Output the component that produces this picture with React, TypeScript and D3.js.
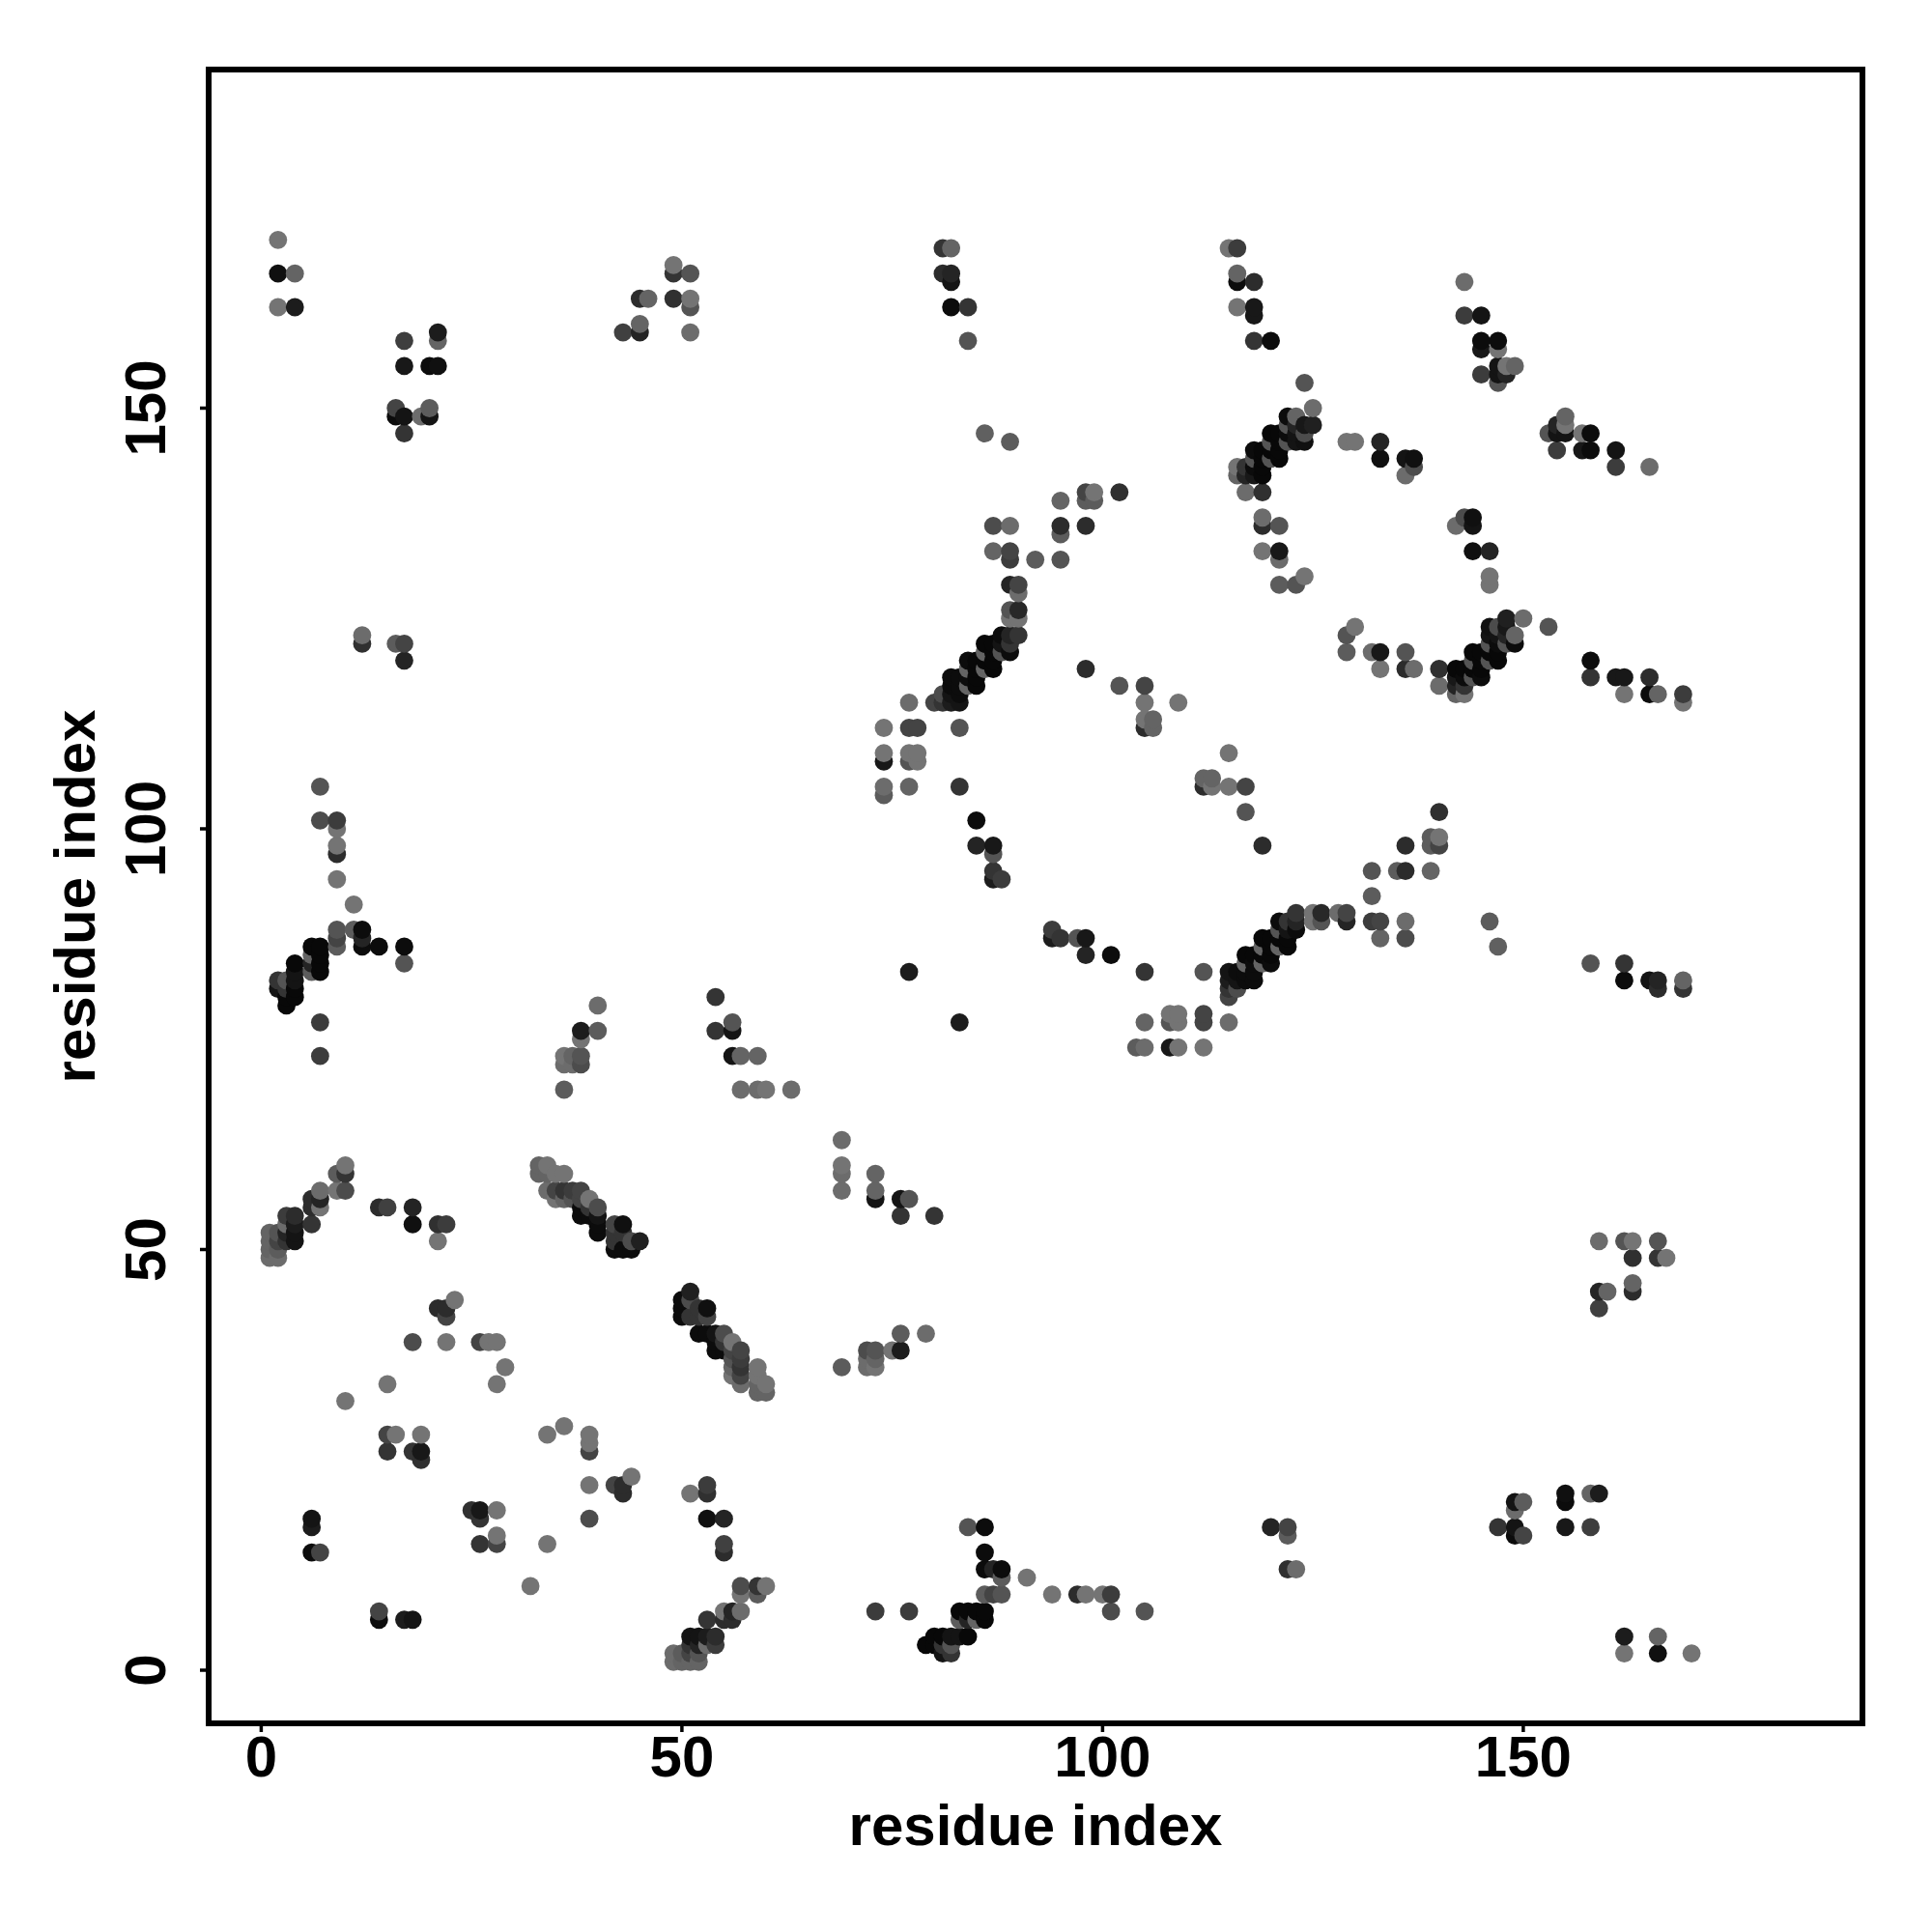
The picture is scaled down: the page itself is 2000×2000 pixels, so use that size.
import React from "react";
import * as d3 from "d3";

// Each contact is [residue i, residue j, grey level]; the map is symmetric, so only i < j is listed.
const contactsFirst: number[][] = [
  [1,49,0x68],[1,50,0x60],[1,51,0x60],[1,52,0x60],
  [2,49,0x68],[2,50,0x58],[2,51,0x40],[2,52,0x50],[2,81,0x10],[2,82,0x30],[2,162,0x70],[2,166,0x0c],[2,170,0x70],
  [3,51,0x30],[3,52,0x20],[3,53,0x68],[3,54,0x38],[3,79,0x04],[3,80,0x04],[3,81,0x30],[3,82,0x50],
  [4,51,0x10],[4,52,0x10],[4,53,0x18],[4,54,0x28],[4,80,0x04],[4,81,0x04],[4,82,0x10],[4,83,0x10],[4,84,0x04],[4,162,0x18],[4,166,0x60],
  [6,14,0x08],[6,17,0x18],[6,18,0x10],[6,53,0x30],[6,55,0x28],[6,56,0x28],[6,83,0x58],[6,84,0x20],[6,85,0x60],[6,86,0x04],
  [7,14,0x40],[7,55,0x70],[7,56,0x20],[7,57,0x68],[7,73,0x38],[7,77,0x38],[7,83,0x04],[7,84,0x04],[7,85,0x04],[7,86,0x04],[7,101,0x48],[7,105,0x50],
  [9,57,0x70],[9,59,0x58],[9,86,0x58],[9,87,0x40],[9,88,0x50],[9,94,0x70],[9,97,0x28],[9,98,0x70],[9,100,0x70],[9,101,0x38],
  [10,32,0x70],[10,57,0x48],[10,59,0x30],[10,60,0x70],
  [11,88,0x58],[11,91,0x70],
  [12,86,0x08],[12,87,0x20],[12,88,0x08],[12,122,0x2c],[12,123,0x68],
  [14,55,0x28],[14,86,0x08],
  [15,26,0x30],[15,28,0x40],[15,34,0x70],[15,55,0x3c],
  [16,28,0x70],[16,122,0x58],[16,149,0x08],[16,150,0x40],
  [17,84,0x50],[17,86,0x08],[17,120,0x20],[17,122,0x40],[17,147,0x30],[17,149,0x10],[17,155,0x14],[17,158,0x3a],
  [18,26,0x30],[18,39,0x48],[18,53,0x0c],[18,55,0x20],
  [19,25,0x2c],[19,26,0x14],[19,28,0x70],[19,149,0x68],
  [20,149,0x10],[20,150,0x58],[20,155,0x08],
];

const contactsSecond: number[][] = [
  [21,43,0x28],[21,51,0x70],[21,53,0x2c],[21,155,0x0c],[21,158,0x60],[21,159,0x18],
  [22,39,0x70],[22,42,0x40],[22,43,0x28],[22,53,0x38],
  [23,44,0x70],[26,39,0x40],[27,39,0x70],[28,34,0x70],[28,39,0x70],[29,36,0x70],
  [33,59,0x60],[33,60,0x60],
  [34,57,0x68],[34,59,0x60],[34,60,0x70],
  [35,56,0x70],[35,57,0x40],[35,59,0x70],
  [36,56,0x60],[36,57,0x30],[36,59,0x70],[36,69,0x58],[36,72,0x68],[36,73,0x70],
  [37,56,0x50],[37,57,0x38],[37,72,0x68],[37,73,0x60],
  [38,54,0x08],[38,55,0x08],[38,56,0x40],[38,57,0x40],[38,72,0x48],[38,73,0x50],[38,75,0x70],[38,76,0x18],
  [39,54,0x08],[39,55,0x30],[39,56,0x70],
  [40,52,0x08],[40,53,0x08],[40,54,0x10],[40,55,0x48],[40,76,0x58],[40,79,0x68],
  [42,50,0x08],[42,51,0x30],[42,52,0x30],[42,53,0x40],
  [43,50,0x08],[43,52,0x30],[43,53,0x0c],[43,159,0x3c],
  [44,50,0x08],[44,51,0x48],
  [45,51,0x1c],[45,159,0x20],[45,160,0x60],[45,163,0x28],
  [46,163,0x60],
  [49,163,0x2c],[49,166,0x30],[49,167,0x70],
  [51,159,0x68],[51,162,0x50],[51,163,0x70],[51,166,0x50],
  [54,76,0x30],[54,80,0x30],
  [56,73,0x10],[56,76,0x10],[56,77,0x50],
  [57,69,0x68],[57,73,0x60],
  [59,69,0x68],[59,73,0x60],
  [60,69,0x70],[63,69,0x68],
];

const contactsThird: number[][] = [
  [74,104,0x58],[74,105,0x68],[74,108,0x14],[74,109,0x70],[74,112,0x70],
  [77,83,0x18],[77,105,0x60],[77,108,0x50],[77,109,0x70],[77,112,0x40],[77,115,0x68],
  [78,108,0x70],[78,109,0x70],[78,112,0x40],
  [81,166,0x28],[81,169,0x30],
  [82,162,0x08],[82,165,0x10],[82,166,0x20],[82,169,0x60],
  [83,105,0x30],[83,112,0x50],
  [84,158,0x50],[84,162,0x30],
  [85,98,0x20],[85,101,0x08],
  [86,147,0x5c],
  [87,94,0x18],[87,95,0x30],[87,97,0x50],[87,98,0x14],[87,133,0x60],[87,136,0x48],
  [88,94,0x38],
  [89,125,0x70],[89,126,0x50],[89,129,0x20],[89,132,0x38],[89,133,0x40],[89,136,0x68],[89,146,0x58],
  [90,125,0x70],[90,126,0x24],[90,128,0x68],[90,129,0x40],
  [92,132,0x58],
  [95,132,0x50],[95,135,0x58],[95,136,0x28],[95,139,0x60],
  [98,119,0x28],[98,136,0x28],[98,139,0x58],[98,140,0x40],
  [99,139,0x58],[99,140,0x70],
  [102,117,0x50],[102,140,0x2c],
  [105,112,0x28],[105,113,0x70],[105,115,0x70],[105,117,0x40],
  [106,112,0x60],[106,113,0x60],
  [109,115,0x70],
];

const contactsFourth: number[][] = [
  [115,169,0x70],
  [116,162,0x70],[116,165,0x08],[116,166,0x60],[116,169,0x38],
  [118,158,0x30],[118,161,0x14],[118,162,0x14],[118,165,0x28],
  [119,133,0x70],[119,136,0x28],[119,137,0x68],
  [120,158,0x08],
  [121,129,0x58],[121,132,0x68],[121,133,0x14],[121,136,0x50],
  [123,129,0x50],
  [124,130,0x70],[124,153,0x50],
  [129,146,0x70],[130,146,0x70],
  [133,144,0x0c],[133,146,0x20],
  [136,142,0x68],[136,144,0x10],
  [137,143,0x48],[137,144,0x0c],
  [143,161,0x38],[143,165,0x68],
  [145,154,0x38],[145,157,0x14],[145,158,0x08],[145,161,0x10],
  [147,153,0x50],[147,154,0x10],[147,155,0x10],[147,157,0x70],[147,158,0x08],
  [148,154,0x20],[148,155,0x70],
  [149,155,0x60],
];

const helixBandA: number[][] = [
  [80,115,0x40],[81,115,0x30],[81,116,0x48],[82,115,0x18],[83,115,0x10],
  [82,116,0x10],[83,116,0x08],[82,117,0x08],[83,117,0x08],[82,118,0x08],[83,118,0x08],
  [84,117,0x60],[84,118,0x08],[84,119,0x60],[84,120,0x08],
  [85,117,0x04],[85,118,0x04],[85,119,0x04],[85,120,0x04],
  [86,119,0x60],[86,120,0x04],[86,121,0x60],[86,122,0x04],
  [87,119,0x04],[87,120,0x04],[87,121,0x04],[87,122,0x04],
  [88,121,0x50],[88,122,0x10],[88,123,0x08],
  [89,121,0x08],[89,122,0x30],[89,123,0x20],[90,123,0x30],
];

const helixBandB: number[][] = [
  [116,142,0x60],[116,143,0x70],[117,140,0x68],[117,142,0x20],[117,143,0x30],
  [118,142,0x14],[118,143,0x08],[118,144,0x50],[118,145,0x08],
  [119,140,0x2c],[119,142,0x04],[119,143,0x04],[119,144,0x04],[119,145,0x04],
  [120,144,0x50],[120,145,0x04],[120,146,0x50],[120,147,0x04],
  [121,144,0x04],[121,145,0x04],[121,146,0x04],[121,147,0x04],
  [122,146,0x50],[122,147,0x08],[122,148,0x50],[122,149,0x08],
  [123,146,0x10],[123,147,0x10],[123,148,0x20],[123,149,0x60],
  [124,146,0x0c],[124,147,0x48],[124,148,0x14],[125,148,0x1c],[125,150,0x68],
];

const tickValues = [0, 50, 100, 150];
const axisLabel = "residue index";

const FONT = "'Liberation Sans', Arial, sans-serif";
const FRAME = { left: 216, right: 1928, top: 72, bottom: 1784 };

export default function App() {
  const x = d3.scaleLinear().domain([0, 150]).range([270.4, 270.4 + 150 * 8.71]);
  const y = d3.scaleLinear().domain([0, 150]).range([1729, 1729 - 150 * 8.71]);

  const upper = [
    ...contactsFirst,
    ...contactsSecond,
    ...contactsThird,
    ...contactsFourth,
    ...helixBandA,
    ...helixBandB,
  ];
  const all = upper.flatMap(([a, b, g]) => [
    { i: a, j: b, g },
    { i: b, j: a, g },
  ]);
  all.sort((p, q) => d3.ascending(p.i, q.i) || d3.ascending(p.j, q.j));

  return (
    <svg
      width={2000}
      height={2000}
      style={{ position: "absolute", left: 0, top: 0, background: "#fff" }}
      fontFamily={FONT}
      fontWeight="bold"
      fontSize={60}
    >
      {all.map((p, k) => (
        <circle
          key={k}
          cx={x(p.i)}
          cy={y(p.j)}
          r={9.4}
          fill={d3.rgb(p.g + 4, p.g + 4, p.g + 4).formatHex()}
        />
      ))}
      <rect
        x={FRAME.left}
        y={FRAME.top}
        width={FRAME.right - FRAME.left}
        height={FRAME.bottom - FRAME.top}
        fill="none"
        stroke="#000"
        strokeWidth={6}
      />
      {tickValues.map((t) => (
        <g key={t}>
          <line x1={x(t)} x2={x(t)} y1={FRAME.bottom} y2={FRAME.bottom + 9} stroke="#000" strokeWidth={3.5} />
          <text x={x(t)} y={1838.5} textAnchor="middle">{t}</text>
          <line x1={FRAME.left} x2={FRAME.left - 9} y1={y(t)} y2={y(t)} stroke="#000" strokeWidth={3.5} />
          <text transform={`translate(170.5,${y(t)}) rotate(-90)`} textAnchor="middle">{t}</text>
        </g>
      ))}
      <text x={(FRAME.left + FRAME.right) / 2} y={1910} textAnchor="middle">{axisLabel}</text>
      <text transform={`translate(98,${(FRAME.top + FRAME.bottom) / 2}) rotate(-90)`} textAnchor="middle">{axisLabel}</text>
    </svg>
  );
}
